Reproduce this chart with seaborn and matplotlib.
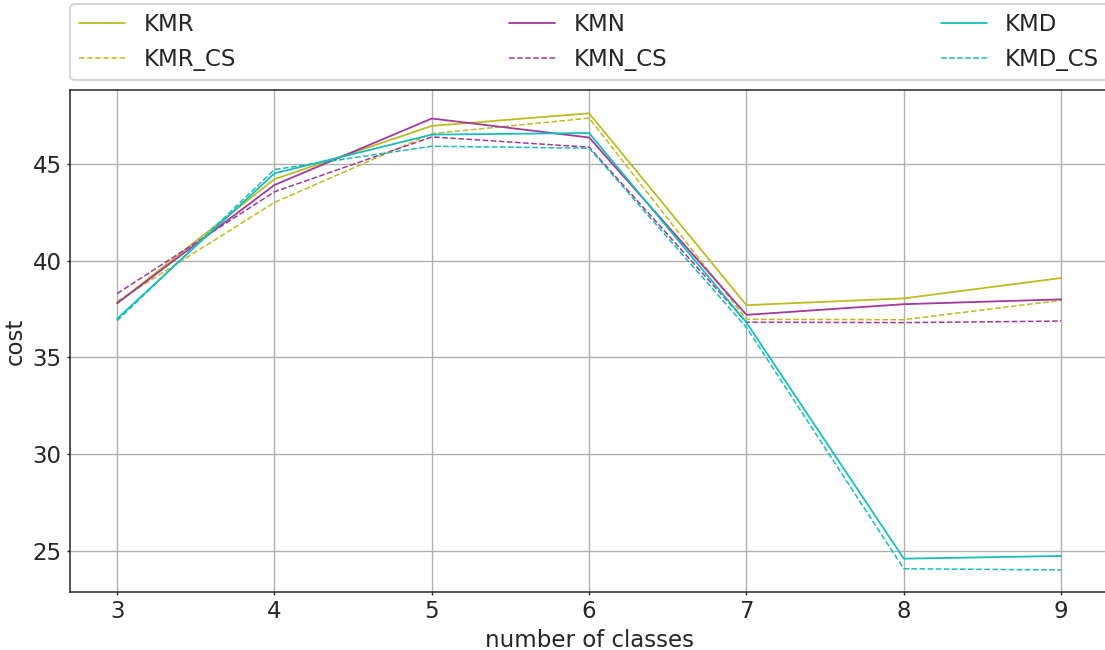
import matplotlib
matplotlib.use("Agg")
import matplotlib.pyplot as plt
import seaborn as sns

classes = [3, 4, 5, 6, 7, 8, 9]

kmr = [37.8, 44.2, 46.95, 47.6, 37.7, 38.05, 39.1]
kmr_cs = [37.9, 43.0, 46.55, 47.35, 36.97, 36.95, 37.95]
kmn = [37.8, 43.9, 47.33, 46.35, 37.2, 37.75, 38.0]
kmn_cs = [38.3, 43.55, 46.38, 45.85, 36.82, 36.8, 36.88]
kmd = [37.0, 44.5, 46.5, 46.58, 36.8, 24.62, 24.76]
kmd_cs = [36.9, 44.7, 45.9, 45.8, 36.55, 24.1, 24.04]

names = ["KMR", "KMR_CS", "KMN", "KMN_CS", "KMD", "KMD_CS"]
series = [kmr, kmr_cs, kmn, kmn_cs, kmd, kmd_cs]
colors = ["#bcbd22", "#bcbd22", "#a2399d", "#a2399d", "#17bebb", "#17bebb"]

sns.set_theme(style="ticks", context="talk", rc={
    "axes.labelsize": 16.5,
    "xtick.major.size": 2.5,
    "ytick.major.size": 2.5,
    "xtick.major.width": 1.0,
    "ytick.major.width": 1.0,
    "axes.linewidth": 1.1,
})

fig = plt.figure(figsize=(11.05, 6.5), dpi=100)
ax = fig.add_axes([0.0633, 0.0892, 0.9397, 0.7723])

for name, vals, c in zip(names, series, colors):
    dashed = name.endswith("_CS")
    sns.lineplot(x=classes, y=vals, ax=ax, color=c,
                 linestyle="--" if dashed else "-",
                 linewidth=1.1 if dashed else 1.3, label=name)

ax.grid(True, color="#b0b0b0", linewidth=1)
ax.set_xlim(2.7, 9.3)
ax.set_ylim(22.9, 48.8)
ax.set_yticks([25, 30, 35, 40, 45])
ax.set_xlabel("number of classes")
ax.set_ylabel("cost")
ax.spines["right"].set_visible(False)

ax.legend(loc="lower left", bbox_to_anchor=(0, 1.02, 1, 0.2), ncol=3,
          mode="expand", borderaxespad=0.)

fig.savefig("out.png", dpi=100)
